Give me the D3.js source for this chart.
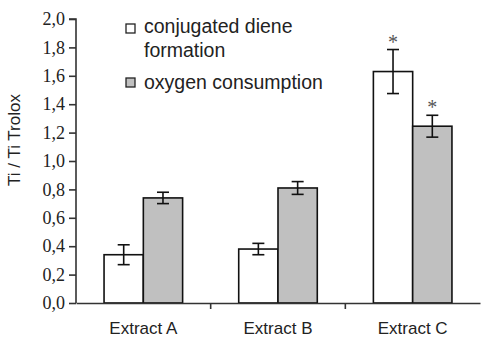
<!DOCTYPE html>
<html lang="en">
<head>
<meta charset="utf-8">
<title>Ti / Ti Trolox</title>
<script src="https://d3js.org/d3.v7.min.js"></script>
<style>
  body { margin: 0; background: #fff; }
  .ytick text { font-family: "Liberation Serif", "Times New Roman", serif; font-size: 18px; fill: #222; }
  .xtick text { font-family: "Liberation Sans", Arial, sans-serif; font-size: 17px; fill: #222; }
  .lbl { font-family: "Liberation Sans", Arial, sans-serif; font-size: 17px; fill: #222; }
  .leg { font-family: "Liberation Sans", Arial, sans-serif; font-size: 19.5px; fill: #222; }
</style>
</head>
<body>
<div class="chart"></div>
<script>
const extracts = ["Extract A", "Extract B", "Extract C"];
const seriesNames = ["conjugated diene formation", "oxygen consumption"];
const dieneValues = [0.34, 0.38, 1.63];
const dieneErrors = [0.07, 0.04, 0.155];
const oxygenValues = [0.74, 0.81, 1.245];
const oxygenErrors = [0.04, 0.045, 0.077];
const significant = [[false, false], [false, false], [true, true]];
const yTicks = [0, 0.2, 0.4, 0.6, 0.8, 1.0, 1.2, 1.4, 1.6, 1.8, 2.0];

const width = 482, height = 338;
const margin = {top: 19, right: 2, bottom: 35, left: 76};

const svg = d3.select(".chart").append("svg")
  .attr("width", width)
  .attr("height", height);

const x0 = d3.scaleBand()
  .domain(extracts)
  .range([margin.left, width - margin.right])
  .padding(0);

const x1 = d3.scaleBand()
  .domain([0, 1])
  .range([0, x0.bandwidth()])
  .paddingInner(0)
  .paddingOuter(0.714);

const y = d3.scaleLinear()
  .domain([0, 2])
  .range([height - margin.bottom, margin.top]);

const fills = ["#ffffff", "#c0c0c0"];

// rows: one per extract, each with two bars
const rows = extracts.map((e, i) => ({
  name: e,
  bars: [
    {s: 0, v: dieneValues[i], err: dieneErrors[i], sig: significant[i][0]},
    {s: 1, v: oxygenValues[i], err: oxygenErrors[i], sig: significant[i][1]}
  ]
}));

const groups = svg.selectAll(".group")
  .data(rows)
  .enter()
  .append("g")
  .attr("class", "group")
  .attr("transform", d => `translate(${x0(d.name)},0)`);

groups.selectAll("rect")
  .data(d => d.bars)
  .enter()
  .append("rect")
  .attr("x", d => x1(d.s))
  .attr("y", d => y(d.v))
  .attr("width", x1.bandwidth())
  .attr("height", d => y(0) - y(d.v))
  .attr("fill", d => fills[d.s])
  .attr("stroke", "#111")
  .attr("stroke-width", 1.6);

// error bars
const capW = 6;
const eb = groups.selectAll(".err")
  .data(d => d.bars)
  .enter()
  .append("g")
  .attr("class", "err")
  .attr("stroke", "#111")
  .attr("stroke-width", 1.6);

eb.append("line")
  .attr("x1", d => x1(d.s) + x1.bandwidth() / 2)
  .attr("x2", d => x1(d.s) + x1.bandwidth() / 2)
  .attr("y1", d => y(d.v + d.err))
  .attr("y2", d => y(d.v - d.err));
eb.append("line")
  .attr("x1", d => x1(d.s) + x1.bandwidth() / 2 - capW)
  .attr("x2", d => x1(d.s) + x1.bandwidth() / 2 + capW)
  .attr("y1", d => y(d.v + d.err))
  .attr("y2", d => y(d.v + d.err));
eb.append("line")
  .attr("x1", d => x1(d.s) + x1.bandwidth() / 2 - capW)
  .attr("x2", d => x1(d.s) + x1.bandwidth() / 2 + capW)
  .attr("y1", d => y(d.v - d.err))
  .attr("y2", d => y(d.v - d.err));

// significance stars
groups.selectAll(".star")
  .data(d => d.bars.filter(b => b.sig))
  .enter()
  .append("text")
  .attr("class", "star")
  .attr("x", d => x1(d.s) + x1.bandwidth() / 2)
  .attr("y", d => y(d.v + d.err) - 1)
  .attr("text-anchor", "middle")
  .attr("font-family", "Liberation Serif, serif")
  .attr("font-size", "20px")
  .attr("fill", "#555")
  .text("*");

// axes
const yAxis = d3.axisLeft(y)
  .tickValues(yTicks)
  .tickSize(7)
  .tickPadding(4)
  .tickFormat(d => d3.format(".1f")(d).replace(".", ","));

svg.append("g")
  .attr("class", "ytick")
  .attr("transform", `translate(${margin.left},0)`)
  .call(yAxis)
  .call(g => g.selectAll("line, path").attr("stroke", "#333").attr("stroke-width", 1.6));

svg.select(".ytick .domain").attr("d", `M-7,${y(2)}H0V${y(0)}`);

const xAxis = d3.axisBottom(x0)
  .tickSize(0)
  .tickPadding(19);

svg.append("g")
  .attr("class", "xtick")
  .attr("transform", `translate(0,${y(0)})`)
  .call(xAxis)
  .call(g => g.select(".domain").attr("stroke", "#333").attr("stroke-width", 1.6));

// category separators below the axis
svg.append("g")
  .selectAll("line")
  .data(extracts.slice(1))
  .enter()
  .append("line")
  .attr("x1", d => x0(d))
  .attr("x2", d => x0(d))
  .attr("y1", y(0))
  .attr("y2", y(0) + 6)
  .attr("stroke", "#333")
  .attr("stroke-width", 1.6);

// y axis title
svg.append("text")
  .attr("class", "lbl")
  .attr("transform", "translate(20,140) rotate(-90)")
  .attr("text-anchor", "middle")
  .text("Ti / Ti Trolox");

// legend
const legend = svg.append("g").attr("transform", "translate(126,24)");
legend.append("rect").attr("x", 0).attr("y", 0).attr("width", 9).attr("height", 9)
  .attr("fill", fills[0]).attr("stroke", "#222").attr("stroke-width", 1.3);
legend.append("text").attr("class", "leg").attr("x", 18).attr("y", 9).text("conjugated diene");
legend.append("text").attr("class", "leg").attr("x", 18).attr("y", 33).text("formation");
legend.append("rect").attr("x", 0).attr("y", 54).attr("width", 9).attr("height", 9)
  .attr("fill", fills[1]).attr("stroke", "#222").attr("stroke-width", 1.3);
legend.append("text").attr("class", "leg").attr("x", 18).attr("y", 65).text("oxygen consumption");
</script>
</body>
</html>
